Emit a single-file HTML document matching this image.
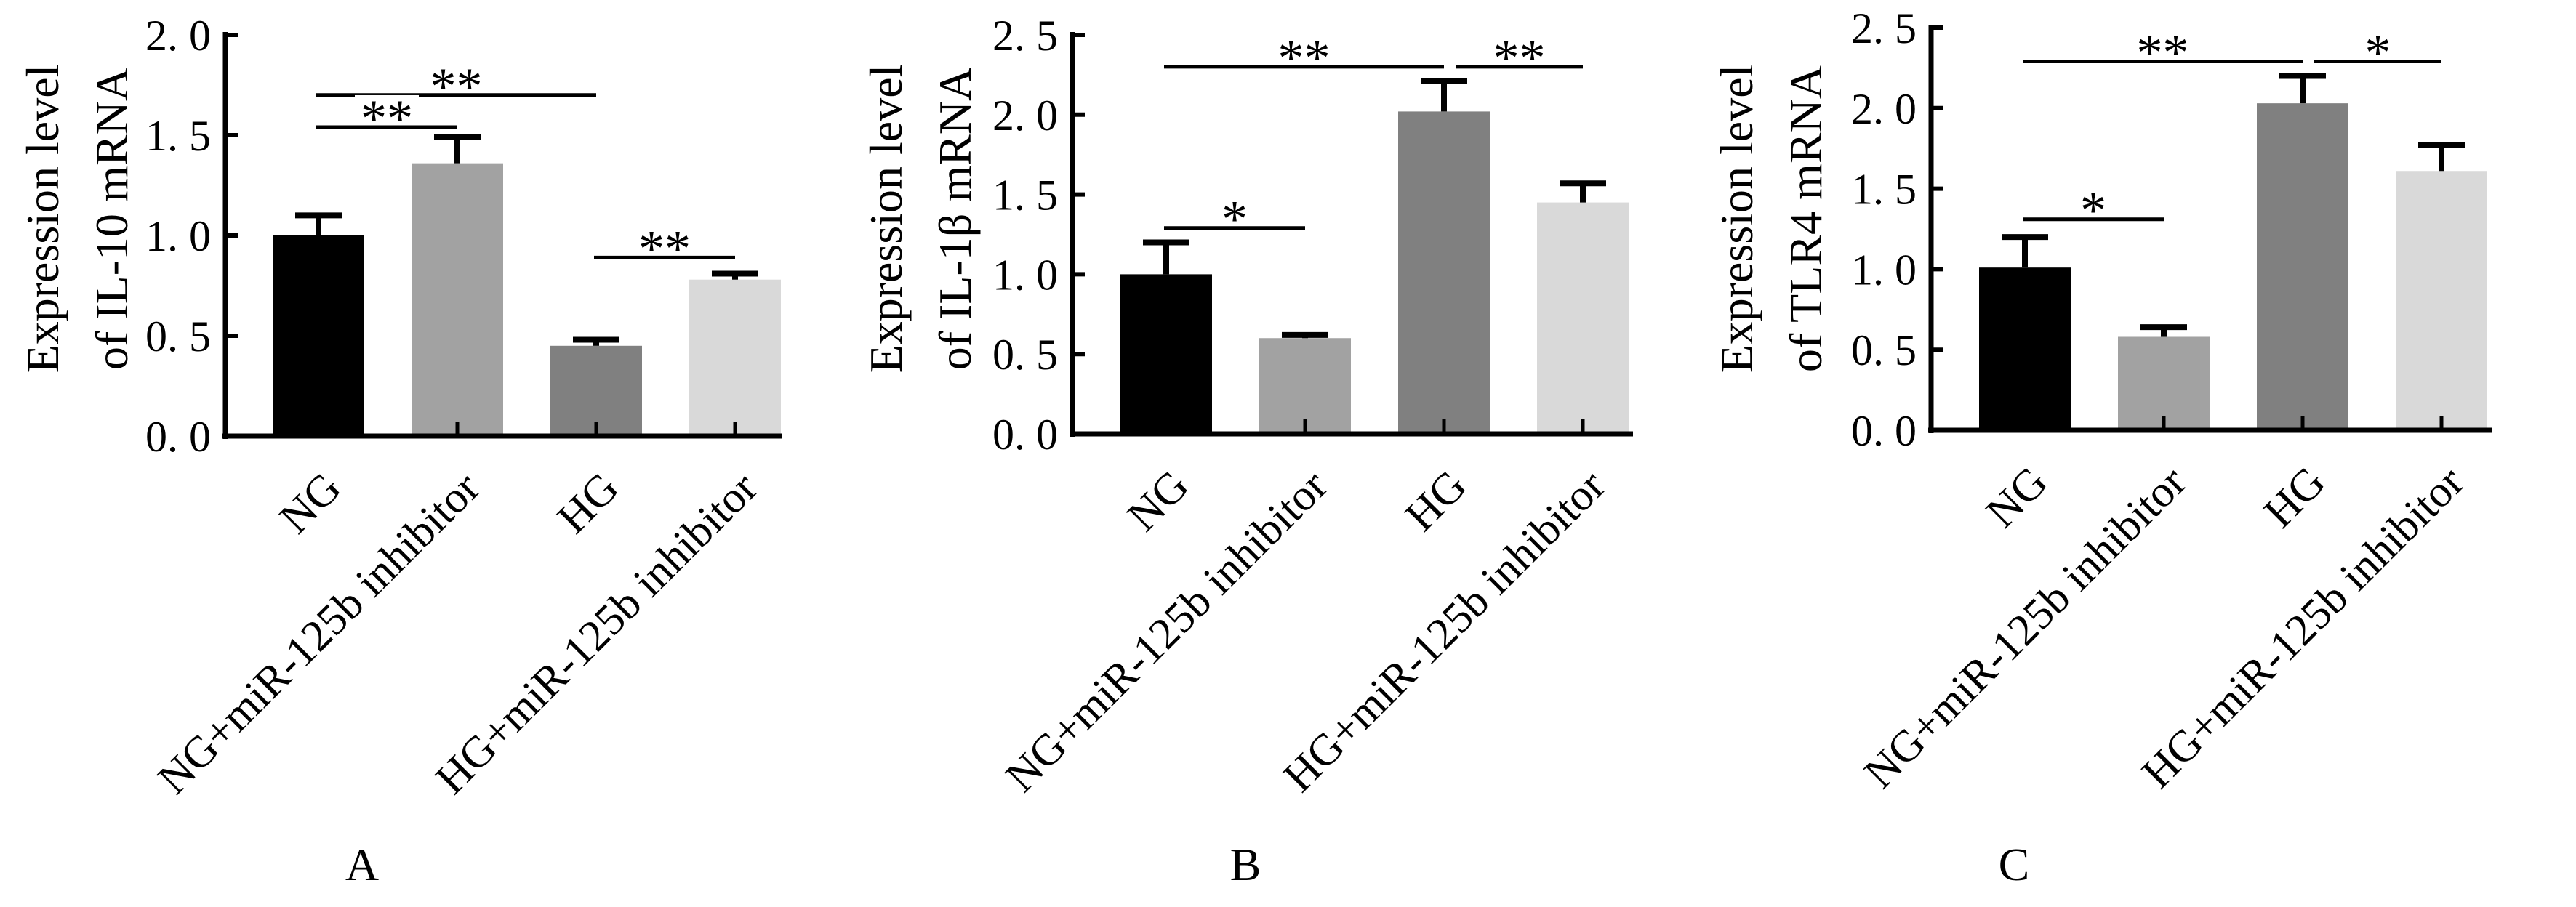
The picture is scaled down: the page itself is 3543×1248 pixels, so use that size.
<!DOCTYPE html>
<html><head><meta charset="utf-8"><style>
html,body{margin:0;padding:0;background:#fff;}
svg{display:block;}
text{font-family:"Liberation Serif","Noto Serif CJK SC",serif;fill:#000;}
</style></head>
<body>
<svg id="fig" width="3543" height="1248" viewBox="0 0 3543 1248" xmlns="http://www.w3.org/2000/svg"></svg>
<script>
const categories = ["NG","NG+miR-125b inhibitor","HG","HG+miR-125b inhibitor"];
const valuesA = [1.00, 1.36, 0.45, 0.78];
const errorsA = [1.10, 1.49, 0.48, 0.81];
const valuesB = [1.00, 0.60, 2.02, 1.45];
const errorsB = [1.20, 0.62, 2.21, 1.57];
const valuesC = [1.01, 0.58, 2.03, 1.61];
const errorsC = [1.20, 0.64, 2.20, 1.77];
const ticksA = ["0. 0","0. 5","1. 0","1. 5","2. 0"];
const ticksBC = ["0. 0","0. 5","1. 0","1. 5","2. 0","2. 5"];
const sigA = [[0,2,1.70,"**"],[0,1,1.54,"**"],[2,3,0.89,"**"]];
const sigB = [[0,2,2.30,"**"],[2,3,2.30,"**"],[0,1,1.29,"*"]];
const sigC = [[0,2,2.29,"**"],[2,3,2.29,"*"],[0,1,1.31,"*"]];

const NS="http://www.w3.org/2000/svg";
const svg=document.getElementById('fig');
const colors=["#000000","#a2a2a2","#808080","#d9d9d9"];
function mk(tag,attrs,parent){const e=document.createElementNS(NS,tag);for(const k in attrs)e.setAttribute(k,attrs[k]);(parent||svg).appendChild(e);return e;}

function panel(cfg){
  const g=mk('g',{});
  
  
  const x0=cfg.x0, top=cfg.top, bot=cfg.bot, ymax=cfg.ymax;
  const y=v=>bot-(v/ymax)*(bot-top);
  const slot=cfg.slot, bw=126, first=cfg.x0+cfg.firstOff;
  const cx=i=>first+i*slot;
  cfg.vals.forEach((v,i)=>{
    const r=mk('rect',{x:cx(i)-bw/2,y:y(v),width:bw,height:bot-y(v),fill:colors[i]},g);
    
    
    const e=cfg.errs[i];
    const s=mk('line',{x1:cx(i),x2:cx(i),y1:y(v),y2:y(e),stroke:'#000','stroke-width':8},g);
    
    
    const c=mk('line',{x1:cx(i)-32,x2:cx(i)+32,y1:y(e),y2:y(e),stroke:'#000','stroke-width':8},g);
    
    
    const t=mk('line',{x1:cx(i),x2:cx(i),y1:bot,y2:bot-20,stroke:'#000','stroke-width':5},g);
    
    
    const ax=cx(i)+34, ay=bot+75;
    const lbl=mk('text',{x:ax,y:ay,'text-anchor':'end','font-size':61,transform:`rotate(-45 ${ax} ${ay})`},g);
    lbl.textContent=categories[i];
    
    
  });
  const ya=mk('line',{x1:x0,x2:x0,y1:top-4,y2:bot+4,stroke:'#000','stroke-width':7},g);
  
  
  const xa=mk('line',{x1:x0-4,x2:cfg.xend,y1:bot,y2:bot,stroke:'#000','stroke-width':7},g);
  
  
  cfg.ticks.forEach((t,k)=>{
    const yy=y(k*0.5);
    const tk=mk('line',{x1:x0,x2:x0+17,y1:yy,y2:yy,stroke:'#000','stroke-width':6},g);
    
    
    const tl=mk('text',{x:x0-20,y:yy+21,'text-anchor':'end','font-size':60},g);
    tl.textContent=t;
    
    
  });
  cfg.sig.forEach(s=>{
    const [a,b,v,m]=s;
    let xs=cx(a)-3, xe=cx(b);
    if(a===2 && cfg.sig.some(q=>q[1]===2 && Math.abs(q[2]-v)<0.05)) xs=cx(a)+16;
    const ln=mk('line',{x1:xs,x2:xe,y1:y(v),y2:y(v),stroke:'#000','stroke-width':5},g);
    
    
    const mid=(xs+xe)/2;
    const w=m.length*34+20;
    const bg=mk('rect',{x:mid-w/2,y:y(v)-44,width:w,height:36,fill:'#fff'},g);
    
    
    const st=mk('text',{x:mid,y:y(v)+12,'text-anchor':'middle','font-size':72},g);
    st.textContent=m;
    
    
  });
  const tx=cfg.titleX, ty=cfg.titleY;
  const t1=mk('text',{x:tx,y:ty,'text-anchor':'middle','font-size':64,transform:`rotate(-90 ${tx} ${ty})`},g);
  t1.textContent='Expression level';
  
  
  const t2=mk('text',{x:tx+95,y:ty,'text-anchor':'middle','font-size':64,transform:`rotate(-90 ${tx+95} ${ty})`},g);
  t2.textContent=cfg.title2;
  
  
  const L=mk('text',{x:cfg.letterX,y:1211,'text-anchor':'middle','font-size':64},g);
  L.textContent=cfg.letter;
  
  
}
panel({letter:'A',x0:310,top:48,bot:600,ymax:2.0,xend:1076,slot:191,firstOff:128,vals:valuesA,errs:errorsA,ticks:ticksA,sig:sigA,titleX:80,titleY:301,title2:'of IL-10 mRNA',letterX:498});
panel({letter:'B',x0:1475,top:48,bot:597,ymax:2.5,xend:2246,slot:191,firstOff:129,vals:valuesB,errs:errorsB,ticks:ticksBC,sig:sigB,titleX:1240,titleY:301,title2:'of IL-1β mRNA',letterX:1713});
panel({letter:'C',x0:2656,top:38,bot:592,ymax:2.5,xend:3427,slot:191,firstOff:129,vals:valuesC,errs:errorsC,ticks:ticksBC,sig:sigC,titleX:2410,titleY:301,title2:'of TLR4 mRNA',letterX:2770});
</script>
</body></html>
